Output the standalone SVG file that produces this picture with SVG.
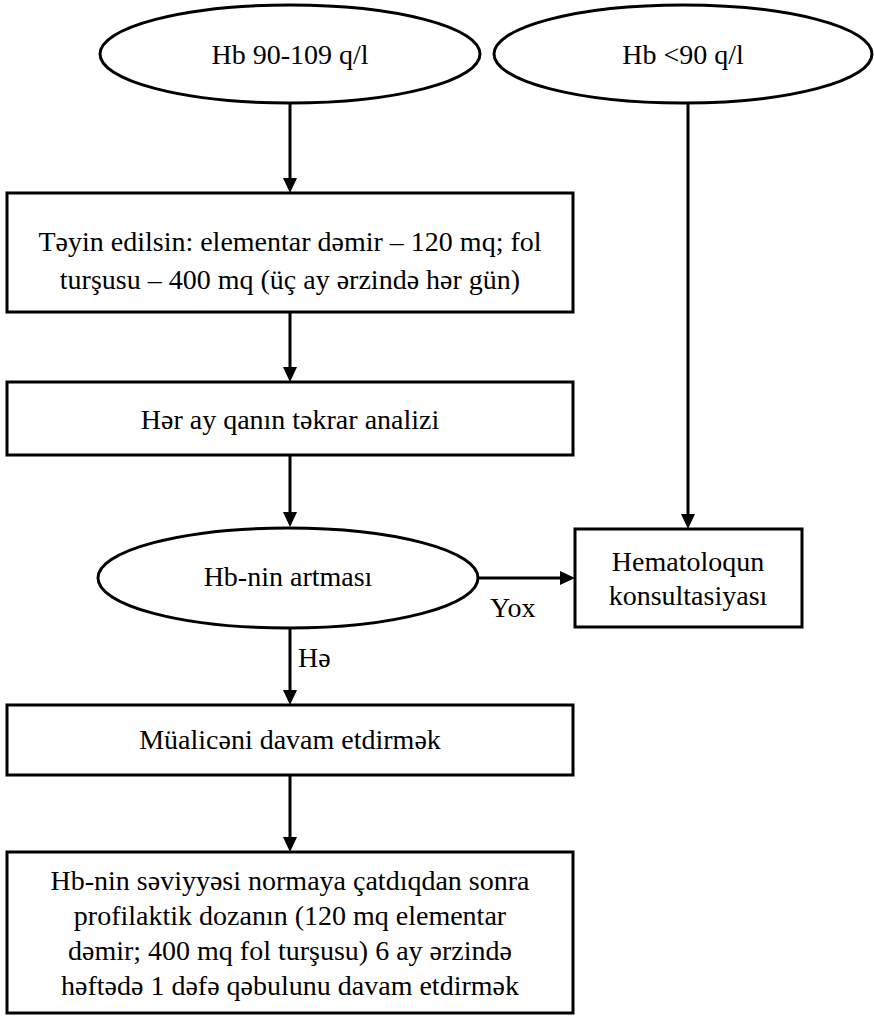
<svg xmlns="http://www.w3.org/2000/svg" width="874" height="1019" viewBox="0 0 874 1019">
<style>
.shape{fill:#fff;stroke:#000;stroke-width:3}
.t{font-family:"Liberation Serif","Times New Roman",serif;font-size:28px;fill:#000;text-anchor:middle}
.lbl{font-family:"Liberation Serif","Times New Roman",serif;font-size:28px;fill:#000}
.c{fill:none;stroke:#000;stroke-width:3}
</style>
<defs>
<marker id="ah" markerUnits="userSpaceOnUse" markerWidth="16" markerHeight="16" refX="6" refY="7" orient="auto">
<path d="M0,0 L15,7 L0,14 z" fill="#000"/>
</marker>
</defs>
<rect width="874" height="1019" fill="#fff"/>
<g id="connectors">
<line class="c" x1="290" y1="103" x2="290" y2="184" marker-end="url(#ah)"/>
<line class="c" x1="290" y1="312" x2="290" y2="373" marker-end="url(#ah)"/>
<line class="c" x1="290" y1="455" x2="290" y2="518" marker-end="url(#ah)"/>
<line class="c" x1="478" y1="578" x2="566" y2="578" marker-end="url(#ah)"/>
<line class="c" x1="688" y1="103" x2="688" y2="520" marker-end="url(#ah)"/>
<line class="c" x1="290" y1="628" x2="290" y2="696" marker-end="url(#ah)"/>
<line class="c" x1="290" y1="775" x2="290" y2="843" marker-end="url(#ah)"/>
<text class="lbl" x="490" y="617">Yox</text>
<text class="lbl" x="298" y="667">Hə</text>
</g>
<g id="n1">
<ellipse class="shape" cx="290" cy="54" rx="190" ry="49"/>
<text class="t" x="290" y="64">Hb 90-109 q/l</text>
</g>
<g id="n2">
<ellipse class="shape" cx="683" cy="54" rx="189" ry="49"/>
<text class="t" x="683" y="64">Hb &lt;90 q/l</text>
</g>
<g id="n3">
<rect class="shape" x="7" y="193" width="566" height="119"/>
<text class="t" x="290" y="251">Təyin edilsin: elementar dəmir – 120 mq; fol</text>
<text class="t" x="290" y="289">turşusu – 400 mq (üç ay ərzində hər gün)</text>
</g>
<g id="n4">
<rect class="shape" x="7" y="382" width="566" height="73"/>
<text class="t" x="290" y="429">Hər ay qanın təkrar analizi</text>
</g>
<g id="n5">
<ellipse class="shape" cx="288" cy="578" rx="190" ry="50"/>
<text class="t" x="288" y="586">Hb-nin artması</text>
</g>
<g id="n6">
<rect class="shape" x="575" y="529" width="227" height="98"/>
<text class="t" x="688" y="571">Hematoloqun</text>
<text class="t" x="688" y="605">konsultasiyası</text>
</g>
<g id="n7">
<rect class="shape" x="7" y="705" width="566" height="70"/>
<text class="t" x="290" y="749">Müalicəni davam etdirmək</text>
</g>
<g id="n8">
<rect class="shape" x="7" y="852" width="566" height="161"/>
<text class="t" x="290" y="890">Hb-nin səviyyəsi normaya çatdıqdan sonra</text>
<text class="t" x="290" y="925">profilaktik dozanın (120 mq elementar</text>
<text class="t" x="290" y="960">dəmir; 400 mq fol turşusu) 6 ay ərzində</text>
<text class="t" x="290" y="995">həftədə 1 dəfə qəbulunu davam etdirmək</text>
</g>
</svg>
